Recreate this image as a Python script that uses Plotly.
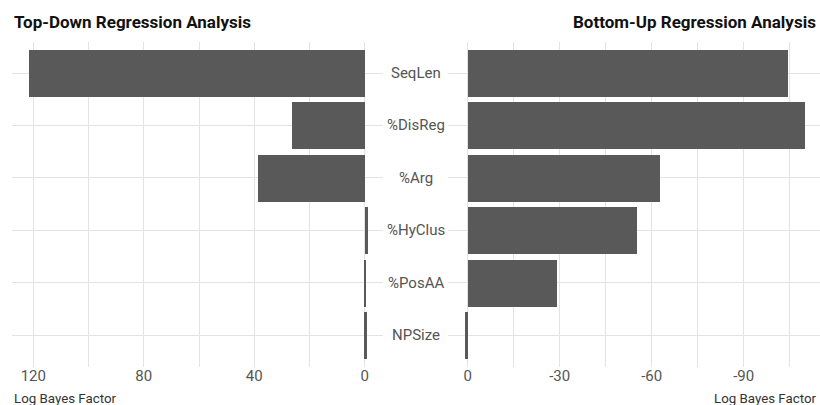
import plotly.graph_objects as go

# Predictors, top to bottom
predictors = ["SeqLen", "%DisReg", "%Arg", "%HyClus", "%PosAA", "NPSize"]
# Log Bayes factors for each regression direction
top_down = [121.4, 26.5, 38.6, -1.0, -0.4, -0.7]
bottom_up = [-104.4, -109.8, -62.4, -54.9, -29.1, 1.2]
# Axis ticks
left_ticks = [120, 80, 40, 0]
left_labels = ["120", "80", "40", "0"]
right_ticks = [0, -30, -60, -90]
right_labels = ["0", "-30", "-60", "-90"]

W, H = 820, 405
BAR = "#595959"
GRID = "#e3e3e3"
FONT = "Roboto"

def px(x):
    return x / W

def py(y):
    return 1 - y / H

fig = go.Figure()
fig.add_trace(go.Bar(x=top_down, y=predictors, orientation="h", marker_color=BAR,
                     marker_line_width=0, width=0.9, xaxis="x", yaxis="y",
                     showlegend=False))
fig.add_trace(go.Bar(x=bottom_up, y=predictors, orientation="h", marker_color=BAR,
                     marker_line_width=0, width=0.9, xaxis="x2", yaxis="y2",
                     showlegend=False))

ydom = [py(366.6), py(41.6)]
yax = dict(type="category", categoryorder="array", categoryarray=predictors,
           range=[5.6, -0.6], domain=ydom, showticklabels=False,
           showgrid=True, gridcolor=GRID, gridwidth=1, zeroline=False, ticks="")

tickfont = dict(family=FONT, size=15, color="#555555")

fig.update_layout(
    width=W, height=H, margin=dict(l=0, r=0, t=0, b=0),
    paper_bgcolor="white", plot_bgcolor="white",
    bargap=0,
    xaxis=dict(domain=[px(12), px(383.3)], range=[127.7, -6.7], anchor="y",
               tickmode="array", tickvals=left_ticks, ticktext=left_labels,
               showgrid=True, gridcolor=GRID, gridwidth=1,
               minor=dict(dtick=20, tick0=0, showgrid=True, gridcolor=GRID, gridwidth=1),
               zeroline=False, ticks="", tickfont=tickfont, ticklabelstandoff=-2),
    xaxis2=dict(domain=[px(447.5), 1.0], range=[6.6, -114.9], anchor="y2",
                tickmode="array", tickvals=right_ticks, ticktext=right_labels,
                showgrid=True, gridcolor=GRID, gridwidth=1,
                minor=dict(dtick=15, tick0=0, showgrid=True, gridcolor=GRID, gridwidth=1),
                zeroline=False, ticks="", tickfont=tickfont, ticklabelstandoff=-2),
    yaxis=yax,
    yaxis2=dict(yax, anchor="x2"),
)

# Predictor names between the two panels
for name in predictors:
    fig.add_annotation(x=px(415.5), xref="paper", y=name, yref="y", text=name,
                       showarrow=False, xanchor="center", yanchor="middle",
                       font=dict(family=FONT, size=15, color="#555555"))

# Panel titles
fig.add_annotation(x=px(12), y=py(22), xref="paper", yref="paper",
                   text="<b>Top-Down Regression Analysis</b>", showarrow=False,
                   xanchor="left", yanchor="middle",
                   font=dict(family=FONT, size=17, color="#111111"))
fig.add_annotation(x=px(818), y=py(22), xref="paper", yref="paper",
                   text="<b>Bottom-Up Regression Analysis</b>", showarrow=False,
                   xanchor="right", yanchor="middle",
                   font=dict(family=FONT, size=17, color="#111111"))

# Axis titles
fig.add_annotation(x=px(12), y=py(398), xref="paper", yref="paper",
                   text="Log Bayes Factor", showarrow=False,
                   xanchor="left", yanchor="middle",
                   font=dict(family=FONT, size=13.3, color="#333333"))
fig.add_annotation(x=px(818), y=py(398), xref="paper", yref="paper",
                   text="Log Bayes Factor", showarrow=False,
                   xanchor="right", yanchor="middle",
                   font=dict(family=FONT, size=13.3, color="#333333"))

fig.write_html("out.html")
